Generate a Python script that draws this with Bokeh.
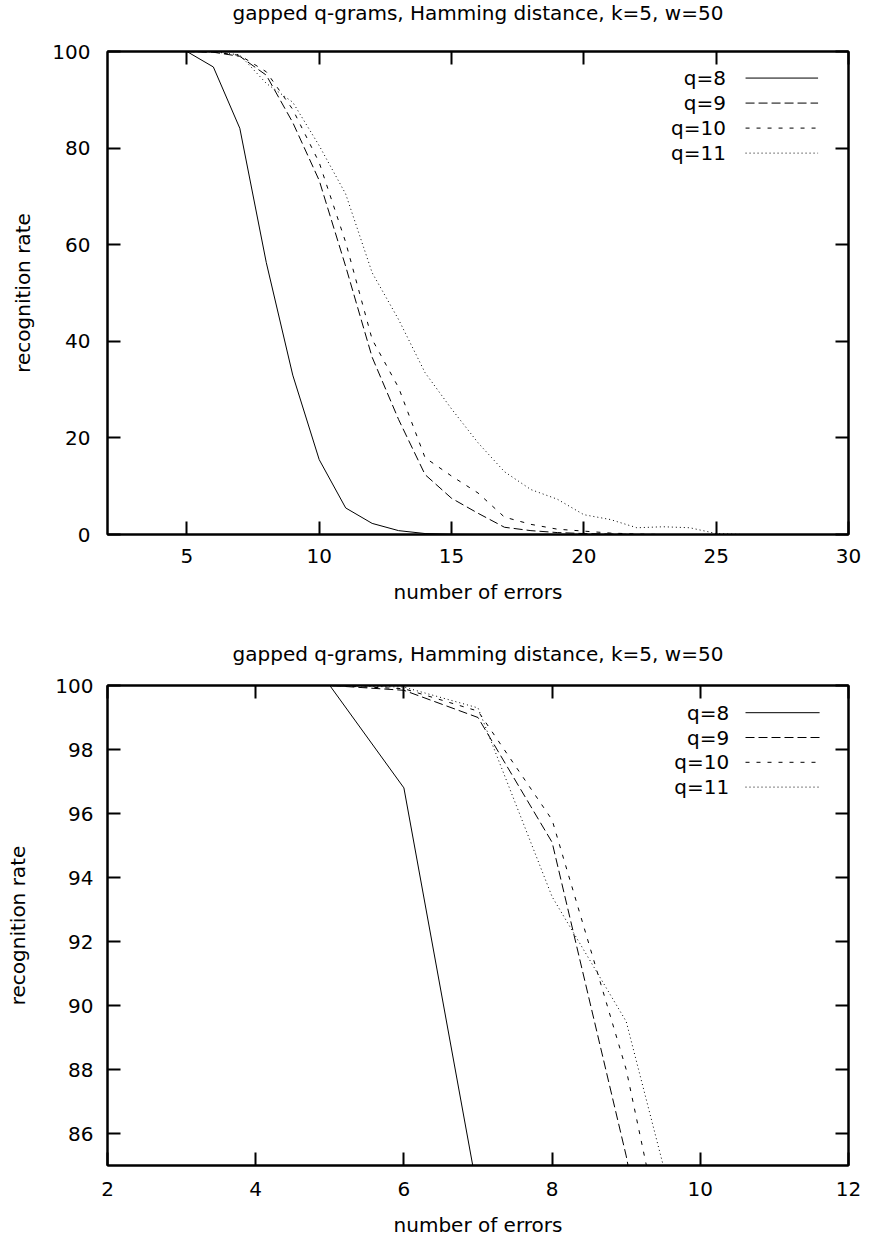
from bokeh.plotting import figure
from bokeh.layouts import column
from bokeh.models import Range1d, LinearAxis, FixedTicker, CustomJSTickFormatter
from bokeh.core.properties import value
from bokeh.embed import file_html
from bokeh.resources import INLINE

# ---------------- data ----------------
errors = list(range(1, 31))
q8 = [100, 100, 100, 100, 100, 96.8, 84.1, 56.3, 33.0, 15.5, 5.5, 2.3, 0.8, 0.2, 0.05,
      0, 0, 0, 0, 0, 0, 0, 0, 0, 0, 0, 0, 0, 0, 0]
q9 = [100, 100, 100, 100, 100, 99.85, 99.0, 95.1, 85.3, 73.3, 55.5, 36.7, 23.8, 12.4, 7.5,
      4.4, 1.5, 0.8, 0.4, 0.2, 0.1, 0, 0, 0, 0, 0, 0, 0, 0, 0]
q10 = [100, 100, 100, 100, 100, 99.9, 99.2, 95.8, 88.0, 77.0, 60.5, 40.4, 30.4, 15.9, 12.1,
       8.6, 3.6, 2.1, 1.1, 0.7, 0.3, 0.1, 0, 0, 0, 0, 0, 0, 0, 0]
q11 = [100, 100, 100, 100, 100, 99.95, 99.3, 93.4, 89.5, 80.5, 70.5, 54.2, 44.5, 33.5, 26.0,
       19.0, 13.0, 9.3, 7.3, 4.1, 3.1, 1.4, 1.6, 1.4, 0.2, 0, 0, 0, 0, 0]

series = [q8, q9, q10, q11]
series_labels = ["q=8", "q=9", "q=10", "q=11"]
series_dash = ["solid", "9 4", "4 7", "1 3"]

title_text = "gapped q-grams, Hamming distance, k=5, w=50"
x_label = "number of errors"
y_label = "recognition rate"

top_xticks = [5, 10, 15, 20, 25, 30]
top_yticks = [0, 20, 40, 60, 80, 100]
bot_xticks = [2, 4, 6, 8, 10, 12]
bot_yticks = [86, 88, 90, 92, 94, 96, 98, 100]

FONT = "DejaVu Sans"
FS = "20px"


def style_axis(ax, ticks, labels=True, standoff=15, blank=""):
    ax.ticker = FixedTicker(ticks=ticks)
    ax.major_tick_in = 13
    ax.major_tick_out = 0
    ax.minor_tick_line_color = None
    ax.axis_line_width = 2
    ax.axis_line_color = "black"
    ax.major_tick_line_width = 2
    ax.major_tick_line_color = "black"
    if labels:
        ax.major_label_text_font = FONT
        ax.major_label_text_font_size = FS
        ax.major_label_text_color = "black"
        ax.major_label_standoff = standoff
    else:
        ax.formatter = CustomJSTickFormatter(code="return '%s'" % blank)
        ax.major_label_text_font_size = "1px"
        ax.major_label_standoff = standoff


def make_plot(xr, yr, xticks, yticks, height, mb_left, mb_right, mb_top, mb_bottom,
              title_valign, title_standoff, top_axis_fill, top_blank,
              xlab_standoff, ylab_standoff, ytick_standoff, xtick_standoff,
              legend_x, legend_line, legend_y0, legend_dy):
    p = figure(width=868, height=height, x_range=Range1d(*xr), y_range=Range1d(*yr),
               output_backend="svg", toolbar_location=None,
               min_border_left=mb_left, min_border_right=mb_right,
               min_border_top=mb_top, min_border_bottom=mb_bottom,
               title=title_text)
    p.grid.visible = False
    p.background_fill_color = "white"
    p.border_fill_color = "white"
    p.outline_line_color = "black"
    p.outline_line_width = 2

    p.title.align = "center"
    p.title.vertical_align = title_valign
    p.title.text_font = FONT
    p.title.text_font_size = FS
    p.title.text_font_style = "normal"
    p.title.text_color = "black"
    p.title.text_line_height = 1.0
    p.title.standoff = title_standoff

    style_axis(p.xaxis[0], xticks, True, xtick_standoff)
    style_axis(p.yaxis[0], yticks, True, ytick_standoff)
    for ax, lab, so in ((p.xaxis[0], x_label, xlab_standoff), (p.yaxis[0], y_label, ylab_standoff)):
        ax.axis_label = lab
        ax.axis_label_text_font = FONT
        ax.axis_label_text_font_size = FS
        ax.axis_label_text_font_style = "normal"
        ax.axis_label_text_color = "black"
        ax.axis_label_standoff = so

    top_ax = LinearAxis()
    style_axis(top_ax, xticks, False, top_axis_fill, top_blank)
    p.add_layout(top_ax, "above")
    right_ax = LinearAxis()
    style_axis(right_ax, yticks, False, 0)
    p.add_layout(right_ax, "right")

    for vals, dash in zip(series, series_dash):
        p.line(errors, vals, line_color="black", line_width=1, line_dash=dash)

    # key (gnuplot style: label then sample)
    ys = [legend_y0 - i * legend_dy for i in range(len(series_labels))]
    p.text(x=[legend_x] * len(ys), y=ys, text=series_labels, text_align="right",
           text_baseline="middle", text_font=value(FONT), text_font_size=FS, text_color="black")
    for yv, dash in zip(ys, series_dash):
        p.line([legend_line[0], legend_line[1]], [yv, yv], line_color="black",
               line_width=1, line_dash=dash)
    return p


p1 = make_plot((2, 30), (0, 100), top_xticks, top_yticks, 618, 107, 10, 51, 84,
               title_valign="top", title_standoff=0, top_axis_fill=21, top_blank=" ",
               xlab_standoff=14, ylab_standoff=14, ytick_standoff=17,
               xtick_standoff=14, legend_x=25.37, legend_line=(26.11, 28.85),
               legend_y0=94.5, legend_dy=5.18)
p2 = make_plot((2, 12), (85, 100), bot_xticks, bot_yticks, 621, 97, 20, 67, 70,
               title_valign="bottom", title_standoff=40, top_axis_fill=0, top_blank="",
               xlab_standoff=14, ylab_standoff=22, ytick_standoff=14,
               xtick_standoff=16, legend_x=10.39, legend_line=(10.61, 11.61),
               legend_y0=99.15, legend_dy=0.775)

layout = column(p1, p2, spacing=0)
open("out.html", "w").write(file_html(layout, INLINE))
